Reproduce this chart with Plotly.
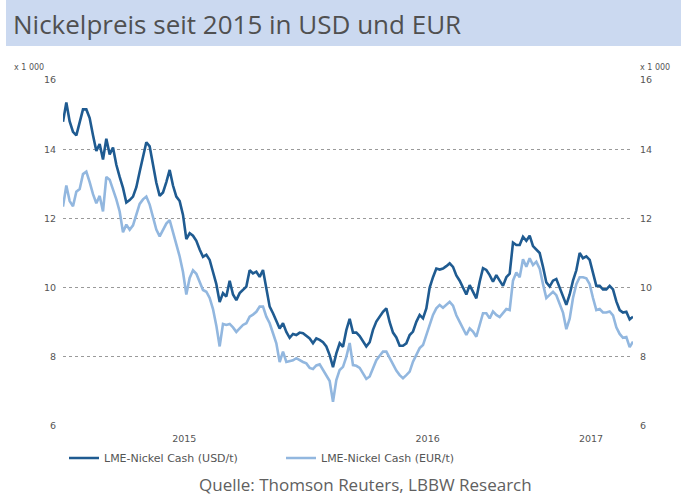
import pandas as pd
import plotly.graph_objects as go

# Nickel cash prices, x 1 000 per tonne, sampled every 5 days from 1 Jan 2015
usd = [14.79, 15.35, 14.8, 14.5, 14.4, 14.75, 15.15, 15.15, 14.9, 14.4,
       13.95, 14.15, 13.7, 14.3, 13.85, 14.05, 13.55, 13.2, 12.88, 12.46,
       12.53, 12.63, 12.9, 13.35, 13.8, 14.2, 14.08, 13.55, 13.03, 12.65,
       12.75, 13.05, 13.4, 12.95, 12.63, 12.5, 12.1, 11.4, 11.57, 11.5,
       11.35, 11.1, 10.89, 10.95, 10.8, 10.45, 10.1, 9.58, 9.84, 9.74,
       10.2, 9.8, 9.64, 9.84, 9.93, 10.03, 10.5, 10.41, 10.46, 10.31,
       10.51, 9.93, 9.45, 9.26, 9.06, 8.82, 8.97, 8.72, 8.55, 8.66,
       8.63, 8.7, 8.68, 8.6, 8.53, 8.39, 8.53, 8.49, 8.42, 8.3,
       8.05, 7.7, 8.1, 8.39, 8.29, 8.77, 9.1, 8.7, 8.7, 8.6,
       8.46, 8.3, 8.42, 8.78, 9.02, 9.16, 9.3, 9.4, 9.0, 8.7,
       8.56, 8.32, 8.32, 8.39, 8.63, 8.73, 9.01, 9.21, 9.11, 9.4,
       10.0, 10.3, 10.55, 10.52, 10.55, 10.62, 10.7, 10.6, 10.35, 10.2,
       10.0, 9.8, 10.07, 9.88, 9.69, 10.17, 10.56, 10.51, 10.36, 10.17,
       10.36, 10.2, 10.05, 10.3, 10.4, 11.3, 11.23, 11.23, 11.47, 11.35,
       11.5, 11.2, 11.1, 11.0, 10.6, 10.15, 10.03, 10.2, 10.25, 9.98,
       9.74, 9.5, 9.8, 10.2, 10.5, 11.0, 10.85, 10.9, 10.8, 10.45,
       10.05, 10.05, 9.95, 9.95, 10.05, 9.95, 9.6, 9.35, 9.28, 9.3,
       9.08, 9.16]

eur = [12.34, 12.95, 12.5, 12.35, 12.77, 12.85, 13.28, 13.35, 13.05, 12.7,
       12.44, 12.65, 12.2, 13.2, 13.12, 12.85, 12.55, 12.2, 11.6, 11.82,
       11.67, 11.8, 12.1, 12.42, 12.55, 12.63, 12.4, 12.05, 11.68, 11.48,
       11.65, 11.85, 11.95, 11.6, 11.2, 10.9, 10.45, 9.8, 10.28, 10.5,
       10.4, 10.15, 9.93, 9.88, 9.7, 9.38, 8.9, 8.3, 8.95, 8.92,
       8.95, 8.85, 8.72, 8.82, 8.92, 8.97, 9.16, 9.22, 9.3, 9.45,
       9.45, 9.16, 8.97, 8.68, 8.39, 7.85, 8.15, 7.85, 7.88, 7.9,
       7.96, 7.9, 7.85, 7.81, 7.68, 7.65, 7.75, 7.78, 7.62, 7.5,
       7.3, 6.7, 7.33, 7.62, 7.71, 8.0, 8.4, 7.76, 7.74, 7.68,
       7.52, 7.36, 7.43, 7.67, 7.9, 8.03, 8.15, 8.15, 7.95, 7.78,
       7.6, 7.47, 7.38, 7.47, 7.57, 7.86, 8.05, 8.25, 8.34, 8.63,
       8.95, 9.21, 9.4, 9.5, 9.42, 9.5, 9.59, 9.48, 9.2, 9.01,
       8.82, 8.63, 8.82, 8.73, 8.58, 8.92, 9.26, 9.26, 9.11, 9.31,
       9.21, 9.15, 9.25, 9.38, 9.35, 10.2, 10.44, 10.3, 10.82, 10.6,
       10.85, 10.65, 10.75, 10.55, 10.1, 9.7, 9.79, 9.88, 9.78, 9.55,
       9.28, 8.8, 9.1, 9.7, 10.1, 10.3, 10.3, 10.27, 10.1, 9.7,
       9.35, 9.38, 9.28, 9.28, 9.31, 9.2, 8.85, 8.66, 8.55, 8.57,
       8.28, 8.44]

dates = pd.date_range("2015-01-01", periods=len(usd), freq="5D")

year_tick_pos = ["2015-07-02", "2016-07-01", "2017-03-03"]
year_tick_text = ["2015", "2016", "2017"]
y_ticks = [6, 8, 10, 12, 14, 16]

names = ["LME-Nickel Cash (USD/t)", "LME-Nickel Cash (EUR/t)"]
title = "Nickelpreis seit 2015 in USD und EUR"
source = "Quelle: Thomson Reuters, LBBW Research"

USD_C = "#1f5b91"
EUR_C = "#92b7df"
TXT = "#555555"

fig = go.Figure()
fig.add_trace(go.Scatter(x=dates, y=usd, name=names[0], mode="lines",
                         line=dict(color=USD_C, width=2.6)))
fig.add_trace(go.Scatter(x=dates, y=eur, name=names[1], mode="lines",
                         line=dict(color=EUR_C, width=2.6), yaxis="y2"))

W, H = 681, 497
L, R, T, B = 63, 633, 80, 426
pw, ph = R - L, B - T


def px(xp):
    return (xp - L) / pw


def py(yp):
    return (B - yp) / ph


fig.update_layout(
    width=W, height=H,
    margin=dict(l=L, r=W - R, t=T, b=H - B),
    paper_bgcolor="white", plot_bgcolor="white",
    font=dict(family="DejaVu Sans", size=9, color=TXT),
    showlegend=True,
    legend=dict(orientation="h", x=px(64), y=py(458), xanchor="left",
                yanchor="middle", entrywidth=172, entrywidthmode="pixels",
                font=dict(family="DejaVu Sans", size=11, color=TXT),
                bgcolor="rgba(0,0,0,0)"),
    xaxis=dict(range=[dates[0], dates[-1]], showgrid=False, zeroline=False,
               showline=False, tickmode="array", tickvals=year_tick_pos,
               ticktext=year_tick_text, ticks="", ticklabelstandoff=5,
               tickfont=dict(size=9.5, color=TXT)),
    yaxis=dict(range=[6, 16], tickvals=y_ticks, showgrid=True, gridcolor="#9a9a9a",
               griddash="dot", gridwidth=1, zeroline=False, showline=False,
               ticks="", ticklabelstandoff=6, tickfont=dict(size=9.5, color=TXT)),
    yaxis2=dict(range=[6, 16], tickvals=y_ticks, overlaying="y", side="right",
                showgrid=False, zeroline=False, showline=False, ticks="",
                ticklabelstandoff=6, tickfont=dict(size=9.5, color=TXT)),
    shapes=[dict(type="rect", xref="paper", yref="paper", x0=px(6), x1=px(690),
                 y0=py(46), y1=py(-2), fillcolor="#cbd9f0", line=dict(width=0),
                 layer="below")],
    annotations=[
        dict(text=title, xref="paper", yref="paper", x=px(11), y=py(24),
             xanchor="left", yanchor="middle", showarrow=False,
             font=dict(family="Open Sans", size=26, color="#505050")),
        dict(text="x 1 000", xref="paper", yref="paper", x=px(12), y=py(68),
             xanchor="left", yanchor="middle", showarrow=False,
             font=dict(size=8, color=TXT)),
        dict(text="x 1 000", xref="paper", yref="paper", x=px(638), y=py(68),
             xanchor="left", yanchor="middle", showarrow=False,
             font=dict(size=8, color=TXT)),
        dict(text=source, xref="paper", yref="paper", x=px(365), y=py(485),
             xanchor="center", yanchor="middle", showarrow=False,
             font=dict(family="Open Sans", size=17, color="#606060")),
    ],
)

fig.write_html("out.html")
